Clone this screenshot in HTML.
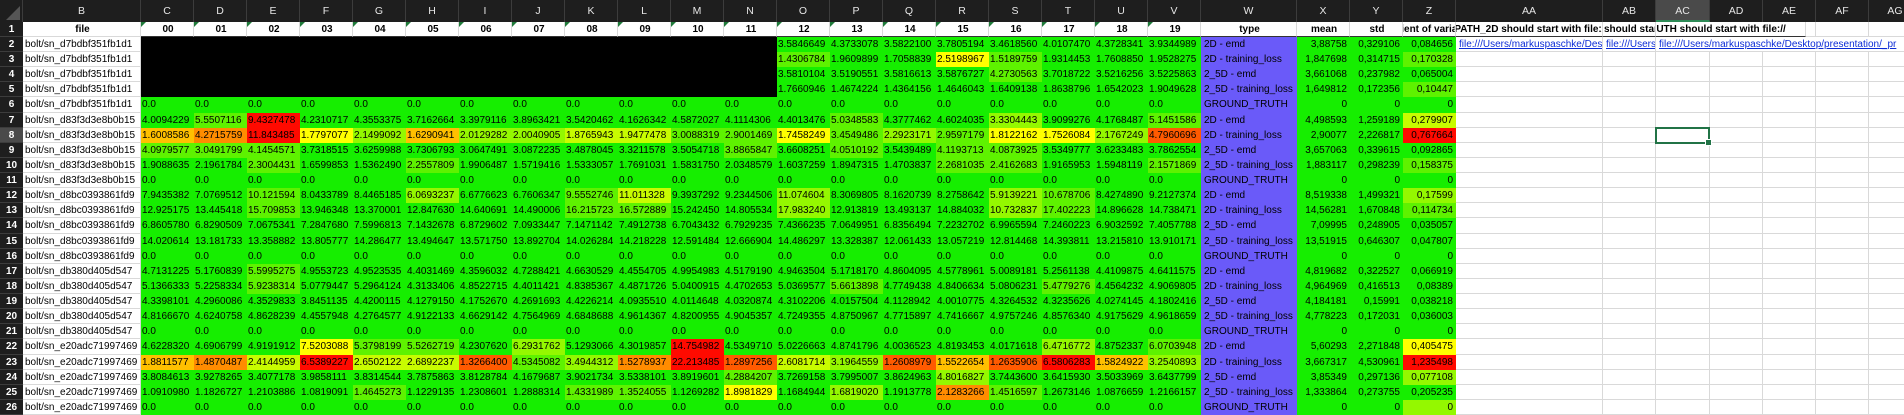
<!DOCTYPE html>
<html><head><meta charset="utf-8">
<style>
html,body{margin:0;padding:0;background:#fff;}
#sheet{position:relative;width:1904px;height:415px;overflow:hidden;font-family:"Liberation Sans",sans-serif;font-size:10px;color:#000;background:#fff;}
.c{position:absolute;box-sizing:border-box;overflow:hidden;white-space:nowrap;line-height:15px;}
.g{border-right:1px solid #d9d9d9;border-bottom:1px solid #d9d9d9;}
.ch{position:absolute;top:0;height:22px;line-height:22px;background:#1e1e1e;color:#e6e6e6;text-align:center;font-size:10.5px;border-right:1px solid #3c3c3c;box-sizing:border-box;}
.rh{position:absolute;left:0;width:23px;background:#1e1e1e;color:#fff;text-align:center;font-weight:bold;font-size:10px;line-height:15px;border-bottom:1px solid #3c3c3c;box-sizing:border-box;}
.tri{position:absolute;left:0;top:0;width:0;height:0;border-top:5px solid #1f7a3a;border-right:5px solid transparent;}
a.lk{color:#0b2bd6;text-decoration:underline;}
</style></head><body>
<div id="sheet"></div>
<script>
const colLetters=['B','C','D','E','F','G','H','I','J','K','L','M','N','O','P','Q','R','S','T','U','V','W','X','Y','Z','AA','AB','AC','AD','AE','AF','AG'];
const headers=['00','01','02','03','04','05','06','07','08','09','10','11','12','13','14','15','16','17','18','19'];
const fileNames=['bolt/sn_d7bdbf351fb1d1','bolt/sn_d83f3d3e8b0b15','bolt/sn_d8bc0393861fd9','bolt/sn_db380d405d547','bolt/sn_e20adc71997469'];
const types=['2D - emd','2D - training_loss','2_5D - emd','2_5D - training_loss','GROUND_TRUTH'];
const Z='0.0 0.0 0.0 0.0 0.0 0.0 0.0 0.0 0.0 0.0 0.0 0.0 0.0 0.0 0.0 0.0 0.0 0.0 0.0 0.0';
const values=[
'- - - - - - - - - - - - 3.5846649 4.3733078 3.5822100 3.7805194 3.4618560 4.0107470 4.3728341 3.9344989',
'- - - - - - - - - - - - 1.4306784 1.9609899 1.7058839 2.5198967 1.5189759 1.9314453 1.7608850 1.9528275',
'- - - - - - - - - - - - 3.5810104 3.5190551 3.5816613 3.5876727 4.2730563 3.7018722 3.5216256 3.5225863',
'- - - - - - - - - - - - 1.7660946 1.4674224 1.4364156 1.4646043 1.6409138 1.8638796 1.6542023 1.9049628',
Z,
'4.0094229 5.5507116 9.4327478 4.2310717 4.3553375 3.7162664 3.3979116 3.8963421 3.5420462 4.1626342 4.5872027 4.1114306 4.4013476 5.0348583 4.3777462 4.6024035 3.3304443 3.9099276 4.1768487 5.1451586',
'1.6008586 4.2715759 11.843485 1.7797077 2.1499092 1.6290941 2.0129282 2.0040905 1.8765943 1.9477478 3.0088319 2.9001469 1.7458249 3.4549486 2.2923171 2.9597179 1.8122162 1.7526084 2.1767249 4.7960696',
'4.0979577 3.0491799 4.1454571 3.7318515 3.6259988 3.7306793 3.0647491 3.0872235 3.4878045 3.3211578 3.5054718 3.8865847 3.6608251 4.0510192 3.5439489 4.1193713 4.0873925 3.5349777 3.6233483 3.7862554',
'1.9088635 2.1961784 2.3004431 1.6599853 1.5362490 2.2557809 1.9906487 1.5719416 1.5333057 1.7691031 1.5831750 2.0348579 1.6037259 1.8947315 1.4703837 2.2681035 2.4162683 1.9165953 1.5948119 2.1571869',
Z,
'7.9435382 7.0769512 10.121594 8.0433789 8.4465185 6.0693237 6.6776623 6.7606347 9.5552746 11.011328 9.3937292 9.2344506 11.074604 8.3069805 8.1620739 8.2758642 5.9139221 10.678706 8.4274890 9.2127374',
'12.925175 13.445418 15.709853 13.946348 13.370001 12.847630 14.640691 14.490006 16.215723 16.572889 15.242450 14.805534 17.983240 12.913819 13.493137 14.884032 10.732837 17.402223 14.896628 14.738471',
'6.8605780 6.8290509 7.0675341 7.2847680 7.5996813 7.1432678 6.8729602 7.0933447 7.1471142 7.4912738 6.7043432 6.7929235 7.4366235 7.0649951 6.8356494 7.2232702 6.9965594 7.2460223 6.9032592 7.4057788',
'14.020614 13.181733 13.358882 13.805777 14.286477 13.494647 13.571750 13.892704 14.026284 14.218228 12.591484 12.666904 14.486297 13.328387 12.061433 13.057219 12.814468 14.393811 13.215810 13.910171',
Z,
'4.7131225 5.1760839 5.5995275 4.9553723 4.9523535 4.4031469 4.3596032 4.7288421 4.6630529 4.4554705 4.9954983 4.5179190 4.9463504 5.1718170 4.8604095 4.5778961 5.0089181 5.2561138 4.4109875 4.6411575',
'5.1366333 5.2258334 5.9238314 5.0779447 5.2964124 4.3133406 4.8522715 4.4011421 4.8385367 4.4871726 5.0400915 4.4702653 5.0369577 5.6613898 4.7749438 4.8406634 5.0806231 5.4779276 4.4564232 4.9069805',
'4.3398101 4.2960086 4.3529833 3.8451135 4.4200115 4.1279150 4.1752670 4.2691693 4.4226214 4.0935510 4.0114648 4.0320874 4.3102206 4.0157504 4.1128942 4.0010775 4.3264532 4.3235626 4.0274145 4.1802416',
'4.8166670 4.6240758 4.8628239 4.4557948 4.2764577 4.9122133 4.6629142 4.7564969 4.6848688 4.9614367 4.8200955 4.9045357 4.7249355 4.8750967 4.7715897 4.7416667 4.9757246 4.8576340 4.9175629 4.9618659',
Z,
'4.6228320 4.6906799 4.9191912 7.5203088 5.3798199 5.5262719 4.2307620 6.2931762 5.1293066 4.3019857 14.754982 4.5349710 5.0226663 4.8741796 4.0036523 4.8193453 4.0171618 6.4716772 4.8752337 6.0703948',
'1.8811577 1.4870487 2.4144959 6.5389227 2.6502122 2.6892237 1.3266400 4.5345082 3.4944312 1.5278937 22.213485 1.2897256 2.6081714 3.1964559 1.2608979 1.5522654 1.2635906 6.5806283 1.5824922 3.2540893',
'3.8084613 3.9278265 3.4077178 3.9858111 3.8314544 3.7875863 3.8128784 4.1679687 3.9021734 3.5338101 3.8919601 4.2884207 3.7269158 3.7995007 3.8624963 4.8016827 3.7443600 3.6415930 3.5033969 3.6437799',
'1.0910980 1.1826727 1.2103886 1.0819091 1.4645273 1.1229135 1.2308601 1.2888314 1.4331989 1.3524055 1.1269282 1.8981829 1.1684944 1.6819020 1.1913778 2.1283266 1.4516597 1.2673146 1.0876659 1.2166157',
Z,
'- - - - - - - - - - - - - - - - - - - -'
];
const levels=['BBBBBBBBBBBB00000000','BBBBBBBBBBBB10041000','BBBBBBBBBBBB00001000','BBBBBBBBBBBB00000000','00000000000000000000',
'01800000000001002001','56842522331141214427','11100000000101011000','00100100000000011001','00000000000000000000',
'00100200130020002100','00100000110020002100','00000000000000000000','00000000000000000000','00000000000000000000',
'00100000000000000000','00100000000001000100','00000000000000000000','00000000000000000000','00000000000000000000',
'00041102008000000201','56383371268732757852','00000000000100020000','00001000110402061000','00000000000000000000',
'48304602034020000000'];
const means=['3,88758','1,847698','3,661068','1,649812','0','4,498593','2,90077','3,657063','1,883117','0','8,519338','14,56281','7,09995','13,51915','0','4,819682','4,964969','4,184181','4,778223','0','5,60293','3,667317','3,85349','1,333864','0',''];
const stds=['0,329106','0,314715','0,237982','0,172356','0','1,259189','2,226817','0,339615','0,298239','0','1,499321','1,670848','0,248905','0,646307','0','0,322527','0,416513','0,15991','0,172031','0','2,271848','4,530961','0,297136','0,273755','0',''];
const cvs=['0,084656','0,170328','0,065004','0,10447','0','0,279907','0,767664','0,092865','0,158375','0','0,17599','0,114734','0,035057','0,047807','0','0,066919','0,08389','0,038218','0,036003','0','0,405475','1,235498','0,077108','0,205235','0',''];
const cvLevels='01010380102100000000482026';

const palette={B:'#000000','0':'#16ee00','1':'#5ef200','2':'#94f800','3':'#c8fc00','4':'#ffff00','5':'#ffc000','6':'#ff8c00','7':'#ff5a00','8':'#ff0a00'};
const sheet=document.getElementById('sheet');
const colX={},colW={};
let x=23;
colLetters.forEach(l=>{let w=53;if(l==='B')w=118;if(l==='W')w=96;if(l==='AA')w=147;if(l==='AC')w=54;colX[l]=x;colW[l]=w;x+=w;});
const RH=15.12;
const rowTop=r=>r===1?22:Math.round(37+(r-2)*RH);
const rowH=r=>r===1?15:Math.round(37+(r-1)*RH)-Math.round(37+(r-2)*RH);

function cell(l,r,txt,opts){
  const d=document.createElement('div');
  d.className='c'+(opts.bg?'':' g');
  d.style.left=colX[l]+'px';d.style.top=rowTop(r)+'px';
  d.style.width=(opts.w||colW[l])+'px';d.style.height=rowH(r)+'px';
  if(opts.bg)d.style.background=opts.bg;
  if(opts.align)d.style.textAlign=opts.align;
  d.style.paddingLeft=(opts.pl!==undefined?opts.pl:2)+'px';
  d.style.paddingRight=(opts.pr||0)+'px';
  if(opts.bold)d.style.fontWeight='bold';
  if(opts.html)d.innerHTML=txt;else d.textContent=txt;
  sheet.appendChild(d);
  return d;
}

for(let r=1;r<=27;r++){
  colLetters.forEach(l=>{
    const d=document.createElement('div');
    d.className='c g';
    d.style.left=colX[l]+'px';d.style.top=rowTop(r)+'px';d.style.width=colW[l]+'px';d.style.height=rowH(r)+'px';
    
    
    sheet.appendChild(d);
  });
}

let e=cell('B',1,'file',{align:'center',bold:true});


headers.forEach((h,i)=>{
  const l=colLetters[i+1];
  const d=cell(l,1,h,{align:'center',bold:true});
  d.style.borderBottom='1px solid #333';
  const t=document.createElement('div');t.className='tri';d.appendChild(t);
  
  
});
e=cell('W',1,'type',{align:'center',bold:true});e.style.borderBottom='1px solid #333';


e=cell('X',1,'mean',{align:'center',bold:true});e.style.borderBottom='1px solid #333';


e=cell('Y',1,'std',{align:'center',bold:true});e.style.borderBottom='1px solid #333';


e=cell('Z',1,'<span style="margin-left:-34px">coefficient of variation</span>',{align:'left',bold:true,html:true,pl:0});e.style.borderBottom='1px solid #333';


e=cell('AA',1,'<span style="margin-left:-40px">IMAGE_PATH_2D should start with file://</span>',{bold:true,html:true,pl:0});e.style.borderBottom='1px solid #333';


e=cell('AB',1,'should start with file://',{bold:true,pl:1});e.style.borderBottom='1px solid #333';


e=cell('AC',1,'<span style="margin-left:-63px">GROUND_TRUTH should start with file://</span>',{bold:true,html:true,pl:0});
e.style.width='150px';e.style.background='#fff';e.style.borderBottom='1px solid #333';



for(let i=0;i<values.length;i++){
  const r=i+2;
  if(r<=26){
    const f=cell('B',r,fileNames[Math.floor(i/5)],{});
    
    
  }
  const vals=values[i].split(' ');
  for(let j=0;j<20;j++){
    const lv=levels[i][j];
    const v=vals[j]==='-'?'':vals[j];
    const d=cell(colLetters[j+1],r,v,{bg:palette[lv],pl:1});
    
    
  }
  const t=cell('W',r,r<=26?types[i%5]:'',{bg:'#6a5af9',pl:3});
  
  
  const m=cell('X',r,means[i],{bg:palette['0'],align:'right',pr:3});
  
  
  const s=cell('Y',r,stds[i],{bg:palette['0'],align:'right',pr:3});
  
  
  const c=cell('Z',r,cvs[i],{bg:palette[cvLevels[i]],align:'right',pr:3});
  
  
}
e=cell('AA',2,'<a class="lk">file:///Users/markuspaschke/Desktop/presentation/</a>',{html:true,pl:3});


e=cell('AB',2,'<a class="lk">file:///Users/markuspaschke</a>',{html:true,pl:3});


e=cell('AC',2,'<a class="lk">file:///Users/markuspaschke/Desktop/presentation/_pr</a>',{html:true,pl:3});
e.style.width='260px';e.style.background='#fff';



const sel=document.createElement('div');
sel.style.cssText='position:absolute;box-sizing:border-box;border:2px solid #217346;left:'+(colX['AC']-1)+'px;top:'+(rowTop(8)-1)+'px;width:'+(colW['AC']+1)+'px;height:17px;';
const hd=document.createElement('div');hd.style.cssText='position:absolute;right:-4px;bottom:-4px;width:5px;height:5px;background:#217346;border:1px solid #fff;';
sel.appendChild(hd);


sheet.appendChild(sel);

const corner=document.createElement('div');
corner.style.cssText='position:absolute;left:0;top:0;width:23px;height:22px;background:#1e1e1e;border-right:1px solid #3c3c3c;box-sizing:border-box;';
corner.innerHTML='<div style="position:absolute;right:2px;bottom:2px;width:0;height:0;border-left:14px solid transparent;border-bottom:14px solid #555;"></div>';


sheet.appendChild(corner);
colLetters.forEach(l=>{
  const h=document.createElement('div');h.className='ch';
  h.style.left=colX[l]+'px';h.style.width=colW[l]+'px';h.textContent=l;
  if(l==='AC'){h.style.background='#4a4a4a';h.style.borderBottom='2px solid #2e8b57';}
  
  
  sheet.appendChild(h);
});
const gap=document.createElement('div');gap.className='ch';gap.style.left=x+'px';gap.style.width='40px';


sheet.appendChild(gap);
for(let r=1;r<=27;r++){
  const h=document.createElement('div');h.className='rh';
  h.style.top=rowTop(r)+'px';h.style.height=rowH(r)+'px';h.textContent=r;
  if(r===8){h.style.background='#4a4a4a';}
  
  
  sheet.appendChild(h);
}
</script>
</body></html>
